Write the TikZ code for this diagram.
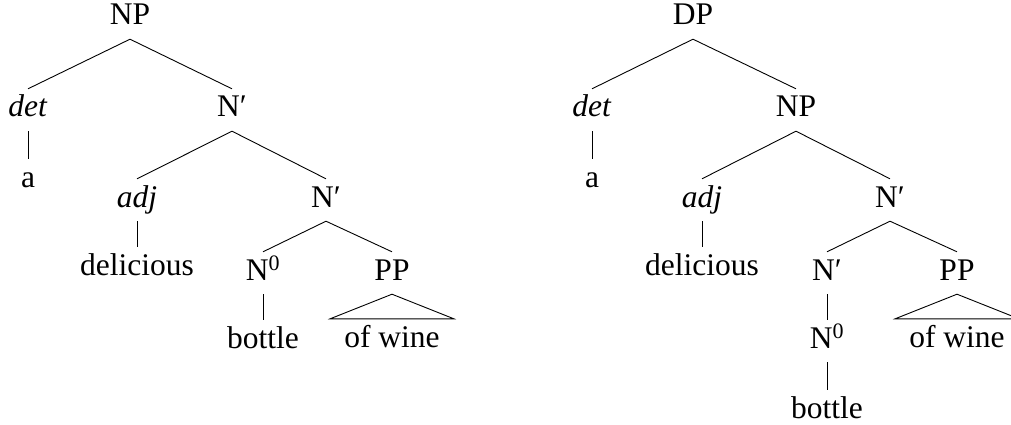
\documentclass[tikz,border=0pt]{standalone}
\usepackage{fontspec}
\setmainfont{Liberation Serif}
\begin{document}
\begin{tikzpicture}[x=1pt,y=-1pt,
  every node/.style={font=\fontsize{31.5}{38}\selectfont, anchor=base,
    text height=20pt, text depth=6pt, inner ysep=8pt, inner xsep=14pt},
  edge/.style={line width=0.9pt, black}]
\useasboundingbox (0,0) rectangle (1011,425);
\clip (0,0) rectangle (1011,425);
% left tree
\node (lNP) at (130,25) {NP};
\node (ldet) at (28,117) {\textit{det}};
\node (lN1) at (232,117) {N′};
\node (la) at (28,187) {a};
\node (ladj) at (137,207) {\textit{adj}};
\node (lN2) at (326,207) {N′};
\node (ldel) at (137,275) {delicious};
\node (lN0) at (263,280) {N\textsuperscript{0}};
\node (lPP) at (392,280) {PP};
\node (lbot) at (263,348) {bottle};
\node (lof) at (392,347) {of wine};
\draw[edge] (lNP.south) -- (ldet.north);
\draw[edge] (lNP.south) -- (lN1.north);
\draw[edge] (ldet.south) -- (la.north);
\draw[edge] (lN1.south) -- (ladj.north);
\draw[edge] (lN1.south) -- (lN2.north);
\draw[edge] (ladj.south) -- (ldel.north);
\draw[edge] (lN2.south) -- (lN0.north);
\draw[edge] (lN2.south) -- (lPP.north);
\draw[edge] (lN0.south) -- (lbot.north);
\draw[edge] (lPP.south) -- (lof.north west) -- (lof.north east) -- cycle;
% right tree
\node (rDP) at (693,25) {DP};
\node (rdet) at (592,117) {\textit{det}};
\node (rNP) at (796,117) {NP};
\node (ra) at (592,187) {a};
\node (radj) at (702,207) {\textit{adj}};
\node (rN1) at (890,207) {N′};
\node (rdel) at (702,275) {delicious};
\node (rN2) at (827,280) {N′};
\node (rPP) at (957,280) {PP};
\node (rN0) at (827,348) {N\textsuperscript{0}};
\node (rbot) at (827,418) {bottle};
\node (rof) at (957,347) {of wine};
\draw[edge] (rDP.south) -- (rdet.north);
\draw[edge] (rDP.south) -- (rNP.north);
\draw[edge] (rdet.south) -- (ra.north);
\draw[edge] (rNP.south) -- (radj.north);
\draw[edge] (rNP.south) -- (rN1.north);
\draw[edge] (radj.south) -- (rdel.north);
\draw[edge] (rN1.south) -- (rN2.north);
\draw[edge] (rN1.south) -- (rPP.north);
\draw[edge] (rN2.south) -- (rN0.north);
\draw[edge] (rN0.south) -- (rbot.north);
\draw[edge] (rPP.south) -- (rof.north west) -- (rof.north east) -- cycle;
\end{tikzpicture}
\end{document}
